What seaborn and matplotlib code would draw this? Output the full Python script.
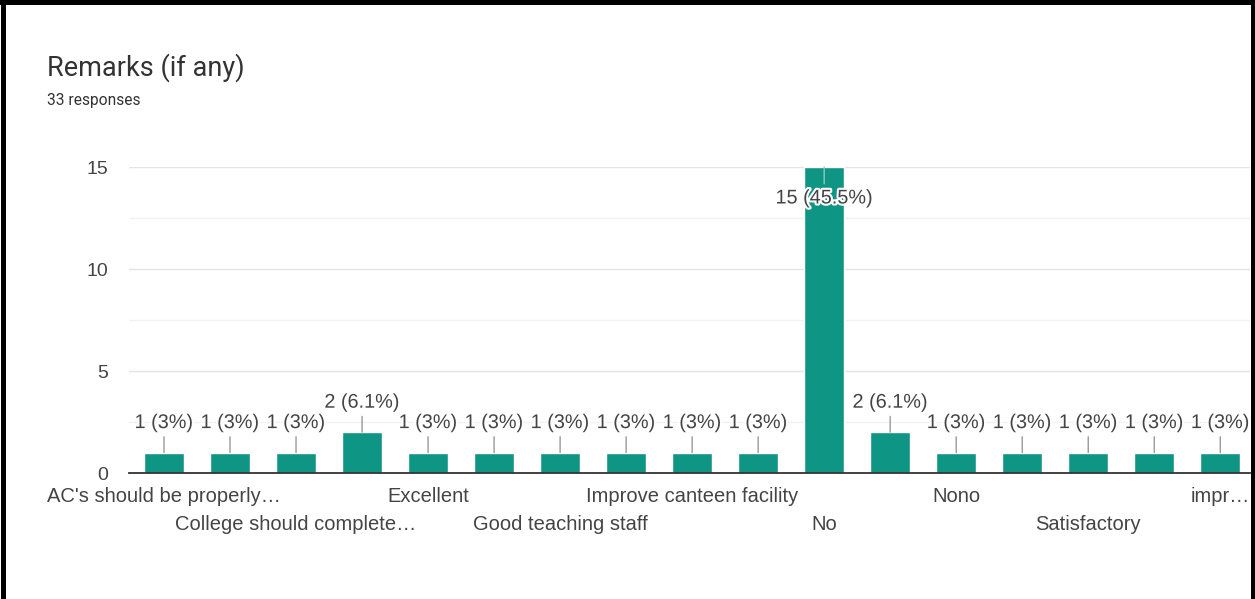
import matplotlib
matplotlib.use("Agg")
import matplotlib.pyplot as plt
import matplotlib.patheffects as pe
from matplotlib.lines import Line2D
import pandas as pd
import seaborn as sns

# Survey answers (only every other slot carries a visible label)
remarks = [
    "AC's should be properly…", "", "College should complete…", "",
    "Excellent", "", "Good teaching staff", "", "Improve canteen facility", "",
    "No", "", "Nono", "", "Satisfactory", "", "impr…",
]
counts = [1, 1, 1, 2, 1, 1, 1, 1, 1, 1, 15, 2, 1, 1, 1, 1, 1]
total_responses = 33
y_ticks = [0, 5, 10, 15]

title = "Remarks (if any)"
subtitle = f"{total_responses} responses"

BAR = "#0f9584"
TEXT = "#444444"

sns.set_theme(style="white")
plt.rcParams["font.family"] = ["Liberation Sans", "DejaVu Sans"]

W, H = 1255, 599
PT = 72 / 100  # points per pixel at 100 dpi
fig = plt.figure(figsize=(W / 100, H / 100), dpi=100)
ax = fig.add_axes([129 / W, 126 / H, 1121 / W, 306 / H])

df = pd.DataFrame({"slot": list(range(len(counts))), "count": counts})
sns.barplot(data=df, x="slot", y="count", color=BAR, saturation=1,
            width=0.6, ax=ax, zorder=3)

ax.set_xlim(-0.53, 16.45)
ax.set_ylim(0, 15)
ax.set_yticks(y_ticks)
ax.set_yticks([2.5, 7.5, 12.5], minor=True)
ax.grid(axis="y", which="major", color="#e4e4e4", lw=1)
ax.grid(axis="y", which="minor", color="#f2f2f2", lw=1)
ax.grid(axis="x", visible=False)
ax.set_axisbelow(True)
for side in ("top", "right", "left"):
    ax.spines[side].set_visible(False)
ax.spines["bottom"].set_color("#333333")
ax.spines["bottom"].set_linewidth(1.3)
ax.spines["bottom"].set_zorder(4)

ax.set_xlabel("")
ax.set_ylabel("")
ax.tick_params(axis="y", which="both", length=0, pad=15, labelsize=14,
               labelcolor=TEXT)

# Category labels, alternating between two rows under the axis
ax.set_xticks(range(len(remarks)))
ax.set_xticklabels([])
ax.tick_params(axis="x", length=0)
row = 0
for i, name in enumerate(remarks):
    if not name:
        continue
    dy = -23 if row == 0 else -51
    ax.annotate(name, xy=(i, 0), xycoords=("data", "axes fraction"),
                xytext=(0, dy * PT), textcoords="offset points",
                ha="center", va="center", fontsize=14.5, color=TEXT,
                annotation_clip=False)
    row = 1 - row

# Value annotations with leader lines
peak = max(counts)
halo = [pe.withStroke(linewidth=3, foreground="white")]
for i, c in enumerate(counts):
    pct = f"{c / total_responses * 100:.1f}".rstrip("0").rstrip(".")
    label = f"{c} ({pct}%)"
    if c == peak:
        off, line_col = -31 * PT, "#8cc9c1"
    else:
        off, line_col = 30 * PT, "#999999"
    ax.annotate(label, xy=(i, c), xytext=(0, off), textcoords="offset points",
                ha="center", va="center", fontsize=14.3, color=TEXT,
                path_effects=halo, annotation_clip=False, zorder=5,
                arrowprops=dict(arrowstyle="-", color=line_col, lw=1,
                                shrinkA=1, shrinkB=0))

fig.text(47 / W, 1 - 68 / H, title, fontsize=19.5, family=["Roboto", "DejaVu Sans"],
         color="#333333", va="center", ha="left")
fig.text(47 / W, 1 - 101 / H, subtitle, fontsize=11.2, family=["Roboto", "DejaVu Sans"],
         color="#333333", va="center", ha="left")

# Black frame on the left, top and right edges
frame = dict(transform=fig.transFigure, color="black", lw=3.6)
fig.add_artist(Line2D([2.5 / W, 2.5 / W], [0, 1], **frame))
fig.add_artist(Line2D([0, 1], [1 - 2 / H, 1 - 2 / H], **frame))
fig.add_artist(Line2D([1 - 2.5 / W, 1 - 2.5 / W], [0, 1], **frame))

fig.savefig("out.png", dpi=100)
